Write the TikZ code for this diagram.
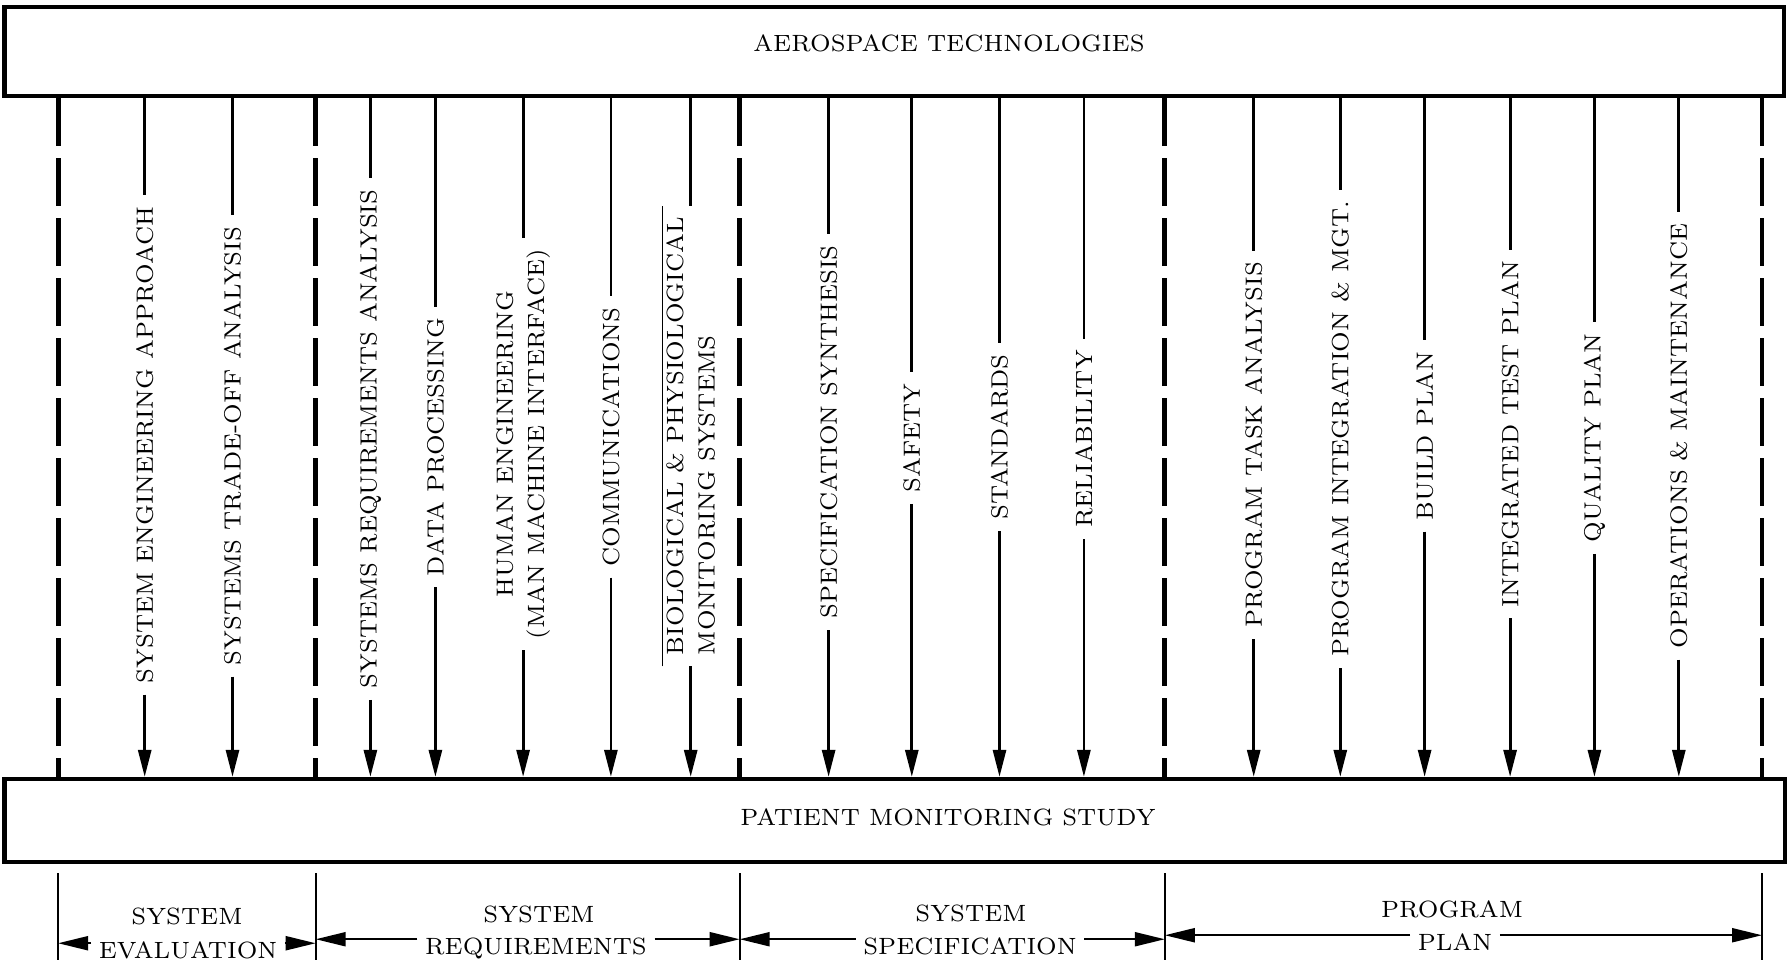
\documentclass[tikz,border=0pt]{standalone}
\usepackage{tikz}
\usetikzlibrary{positioning,arrows.meta}

\begin{document}
\begin{tikzpicture}[
    every node/.style={font=\fontsize{6.7}{8.9}\selectfont},
    box/.style={rectangle, draw, line width=1.2pt, inner sep=0pt},
    lbl/.style={rotate=90, inner xsep=3pt, inner ysep=1pt, align=center},
    word/.style={inner xsep=2pt, inner ysep=0pt, text height=4pt, anchor=base},
    feed/.style={line width=0.8pt},
    arrow/.style={line width=0.8pt, -{Triangle[length=2.7mm,width=1.3mm]}},
    divider/.style={line width=1.4pt, dash pattern=on 4.8mm off 1.2mm},
    dimline/.style={line width=0.6pt},
    dimarrow/.style={line width=0.6pt, -{Triangle[length=3mm,width=1.4mm]}}
]
    \useasboundingbox (0,0) rectangle (17.87,-9.65);

    \node[box, minimum width=17.79cm, minimum height=0.89cm] (aero) at (8.941,-0.515) {};
    \node (aerotxt) at (9.49,-0.43) {AEROSPACE TECHNOLOGIES};
    \node[box, minimum width=17.80cm, minimum height=0.83cm] (study) at (8.946,-8.205) {};
    \node (studytxt) at (9.48,-8.17) {PATIENT MONITORING STUDY};

    % phase boundaries
    \coordinate (d1) at (0.581,-8.73);
    \coordinate (d2) at (3.157,-8.73);
    \coordinate (d3) at (7.397,-8.73);
    \coordinate (d4) at (11.648,-8.73);
    \coordinate (d5) at (17.62,-8.73);

    \draw[divider] (aero.south -| d1) -- (study.north -| d1);
    \draw[divider] (aero.south -| d2) -- (study.north -| d2);
    \draw[divider] (aero.south -| d3) -- (study.north -| d3);
    \draw[divider] (aero.south -| d4) -- (study.north -| d4);
    \draw[divider] (aero.south -| d5) -- (study.north -| d5);

    % technology inputs
    \node[lbl] (sea) at (1.447,-4.45) {SYSTEM ENGINEERING APPROACH};
    \node[lbl] (sta) at (2.325,-4.46) {SYSTEMS TRADE-OFF ANALYSIS};
    \node[lbl] (sra) at (3.704,-4.39) {SYSTEMS REQUIREMENTS ANALYSIS};
    \node[lbl] (dp) at (4.354,-4.47) {DATA PROCESSING};
    \node[lbl] (he) at (5.231,-4.44) {HUMAN ENGINEERING\\(MAN MACHINE INTERFACE)};
    \node[lbl] (com) at (6.109,-4.37) {COMMUNICATIONS};
    \node[lbl, align=left] (bio) at (6.907,-4.36) {BIOLOGICAL \& PHYSIOLOGICAL\\MONITORING SYSTEMS};
    \node[lbl] (ss) at (8.286,-4.32) {SPECIFICATION SYNTHESIS};
    \node[lbl] (saf) at (9.118,-4.38) {SAFETY};
    \node[lbl] (std) at (9.995,-4.37) {STANDARDS};
    \node[lbl] (rel) at (10.839,-4.39) {RELIABILITY};
    \node[lbl] (pta) at (12.537,-4.45) {PROGRAM TASK ANALYSIS};
    \node[lbl] (pim) at (13.403,-4.29) {PROGRAM INTEGRATION \& MGT.};
    \node[lbl] (bp) at (14.246,-4.36) {BUILD PLAN};
    \node[lbl] (itp) at (15.101,-4.34) {INTEGRATED TEST PLAN};
    \node[lbl] (qp) at (15.944,-4.38) {QUALITY PLAN};
    \node[lbl] (om) at (16.788,-4.36) {OPERATIONS \& MAINTENANCE};

    \draw[line width=0.4pt] (bio.north west) -- (bio.north east);

    \draw[feed] (aero.south -| sea) -- (sea.east);
    \draw[arrow] (sea.west) -- (study.north -| sea);
    \draw[feed] (aero.south -| sta) -- (sta.east);
    \draw[arrow] (sta.west) -- (study.north -| sta);
    \draw[feed] (aero.south -| sra) -- (sra.east);
    \draw[arrow] (sra.west) -- (study.north -| sra);
    \draw[feed] (aero.south -| dp) -- (dp.east);
    \draw[arrow] (dp.west) -- (study.north -| dp);
    \draw[feed] (aero.south -| he) -- (he.east);
    \draw[arrow] (he.west) -- (study.north -| he);
    \draw[feed] (aero.south -| com) -- (com.east);
    \draw[arrow] (com.west) -- (study.north -| com);
    \draw[feed] (aero.south -| bio) -- (bio.east);
    \draw[arrow] (bio.west) -- (study.north -| bio);
    \draw[feed] (aero.south -| ss) -- (ss.east);
    \draw[arrow] (ss.west) -- (study.north -| ss);
    \draw[feed] (aero.south -| saf) -- (saf.east);
    \draw[arrow] (saf.west) -- (study.north -| saf);
    \draw[feed] (aero.south -| std) -- (std.east);
    \draw[arrow] (std.west) -- (study.north -| std);
    \draw[feed] (aero.south -| rel) -- (rel.east);
    \draw[arrow] (rel.west) -- (study.north -| rel);
    \draw[feed] (aero.south -| pta) -- (pta.east);
    \draw[arrow] (pta.west) -- (study.north -| pta);
    \draw[feed] (aero.south -| pim) -- (pim.east);
    \draw[arrow] (pim.west) -- (study.north -| pim);
    \draw[feed] (aero.south -| bp) -- (bp.east);
    \draw[arrow] (bp.west) -- (study.north -| bp);
    \draw[feed] (aero.south -| itp) -- (itp.east);
    \draw[arrow] (itp.west) -- (study.north -| itp);
    \draw[feed] (aero.south -| qp) -- (qp.east);
    \draw[arrow] (qp.west) -- (study.north -| qp);
    \draw[feed] (aero.south -| om) -- (om.east);
    \draw[arrow] (om.west) -- (study.north -| om);

    % phases below the study
    \draw[dimline] (d1) -- ++(0,-0.87);
    \draw[dimline] (d2) -- ++(0,-0.87);
    \draw[dimline] (d3) -- ++(0,-0.87);
    \draw[dimline] (d4) -- ++(0,-0.87);
    \draw[dimline] (d5) -- ++(0,-0.87);

    \node[word] (evA) at (1.87,-9.24) {SYSTEM};
    \node[word] (evB) at (1.88,-9.58) {EVALUATION};
    \node[word] (rqA) at (5.39,-9.22) {SYSTEM};
    \node[word] (rqB) at (5.36,-9.54) {REQUIREMENTS};
    \node[word] (spA) at (9.71,-9.21) {SYSTEM};
    \node[word] (spB) at (9.70,-9.54) {SPECIFICATION};
    \node[word] (ppA) at (14.52,-9.17) {PROGRAM};
    \node[word] (ppB) at (14.55,-9.50) {PLAN};

    \draw[dimarrow] (evB.north west) -- (evB.north west -| d1);
    \draw[dimarrow] (evB.north east) -- (evB.north east -| d2);
    \draw[dimarrow] (rqB.north west) -- (rqB.north west -| d2);
    \draw[dimarrow] (rqB.north east) -- (rqB.north east -| d3);
    \draw[dimarrow] (spB.north west) -- (spB.north west -| d3);
    \draw[dimarrow] (spB.north east) -- (spB.north east -| d4);
    \draw[dimarrow] (ppB.north west) -- (ppB.north west -| d4);
    \draw[dimarrow] (ppB.north east) -- (ppB.north east -| d5);

\end{tikzpicture}
\end{document}
